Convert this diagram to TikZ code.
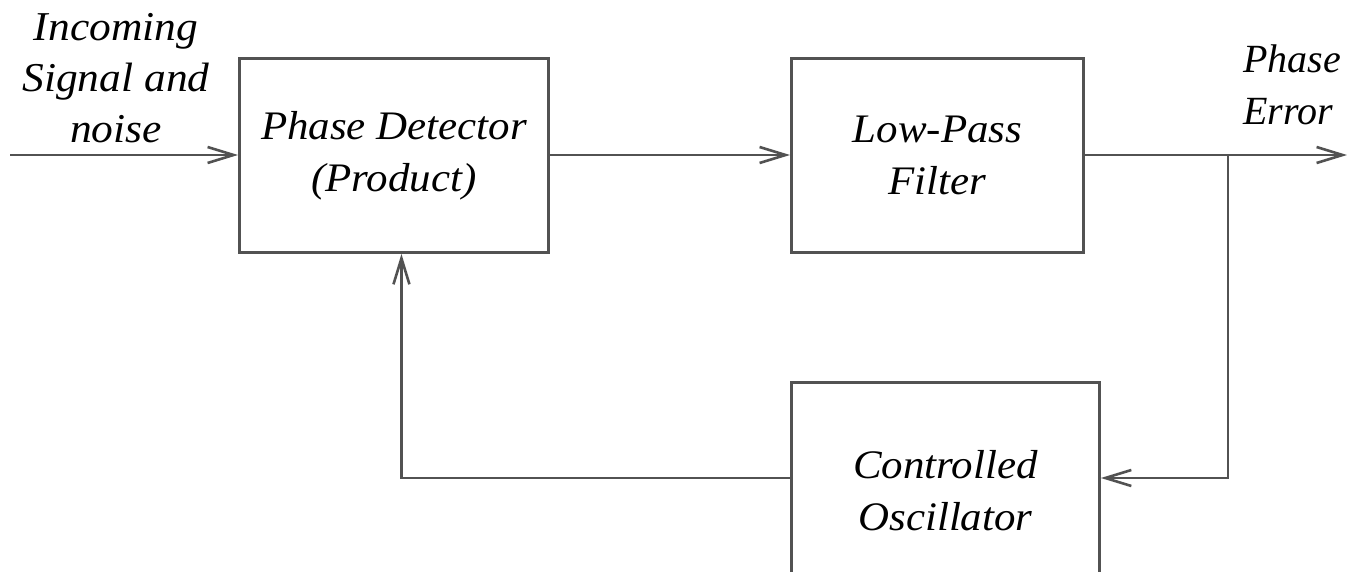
\documentclass[tikz,border=0pt]{standalone}
\usepackage{fontspec}
\setmainfont{Liberation Serif}
\newfontfamily\widefont[FakeStretch=1.06]{Liberation Serif}
\usetikzlibrary{arrows.meta}

\tikzset{
  wire/.style={line width=2.9pt, draw=black!68},
  arr/.style={wire, -{Straight Barb[length=26pt,width=16pt,line width=2.6pt]}},
  blockbox/.style={wire, rectangle, anchor=north west, inner sep=0pt,
    align=center, font=\widefont\fontsize{40.5}{52}\selectfont\itshape},
  lbl/.style={inner sep=0pt, font=\widefont\fontsize{41}{51}\selectfont\itshape},
  outtext/.style={inner sep=0pt, font=\fontsize{40}{52}\selectfont\itshape}
}

\begin{document}
\begin{tikzpicture}[x=1pt, y=-1pt]
  \useasboundingbox (0,0) rectangle (1347,572);
  \clip (0,0) rectangle (1347,572);

  % blocks of the loop
  \node[blockbox, minimum width=309pt, minimum height=194pt] (pd) at (238,57)
    {Phase Detector\\(Product)};
  \node[blockbox, minimum width=292pt, minimum height=194pt] (lpf) at (790,57)
    {Low-Pass\\Filter};
  \node[blockbox, minimum width=308pt, minimum height=216pt] (co) at (790,381)
    {Controlled\\Oscillator};

  % signal labels
  \node[lbl, align=center] (inlbl) at (116,78) {Incoming\\Signal and\\noise};
  \node[outtext, align=left, anchor=west] (outlbl) at (1243,85) {Phase\\Error};

  % free ends and branch point
  \coordinate (in) at (10,155);
  \coordinate (out) at (1347,155);
  \coordinate (br) at (1228,155);

  % forward path
  \draw[arr] (in) -- (in -| pd.west);
  \draw[arr] (pd.east |- in) -- (lpf.west |- in);
  \draw[arr] (lpf.east |- in) -- (out);

  % feedback path
  \draw[arr] (br) |- ([yshift=-97pt]co.north east);
  \draw[arr] ([yshift=-97pt]co.north west) -| ([xshift=7.5pt]pd.south);
\end{tikzpicture}
\end{document}
